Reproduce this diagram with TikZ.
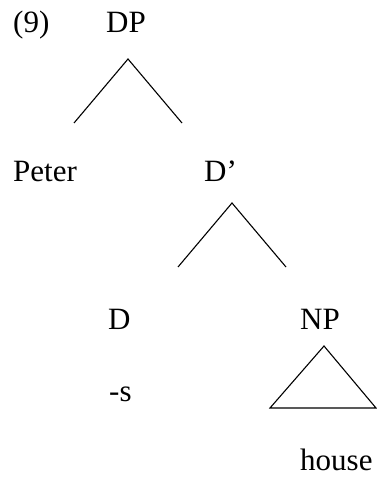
\documentclass[tikz,border=0pt]{standalone}
\usepackage{fontspec}
\setmainfont{Liberation Serif}
\usepackage{tikz}
\usetikzlibrary{calc}

\begin{document}
\begin{tikzpicture}[
    x=1pt, y=-1pt,
    every node/.style={anchor=base west, inner sep=0pt, font=\fontsize{31}{36}\selectfont},
    branch/.style={draw=black, line width=1.1pt}
]
\useasboundingbox (0,0) rectangle (376,478);
% labels
\node (ex)    at (13,33)   {(9)};
\node (dp)    at (106,33)  {DP};
\node (spec)  at (13,182)  {Peter};
\node (dbar)  at (204,182) {D’};
\node (d)     at (108,329) {D};
\node (np)    at (300,329) {NP};
\node (suff)  at (109,401) {-s};
\node (house) at (300,470) {house};
% branch points
\coordinate (dpTop)   at (128,59);
\coordinate (dpL)     at (74,123);
\coordinate (dpR)     at (182,123);
\coordinate (dbarTop) at (232,203);
\coordinate (dbarL)   at (178,267);
\coordinate (dbarR)   at (286,267);
\coordinate (npTop)   at (324,346);
\coordinate (npL)     at (270,408);
\coordinate (npR)     at (376,408);
\draw[branch] (dpL) -- (dpTop) -- (dpR);
\draw[branch] (dbarL) -- (dbarTop) -- (dbarR);
\draw[branch] (npL) -- (npTop) -- (npR) -- cycle;
\end{tikzpicture}
\end{document}
